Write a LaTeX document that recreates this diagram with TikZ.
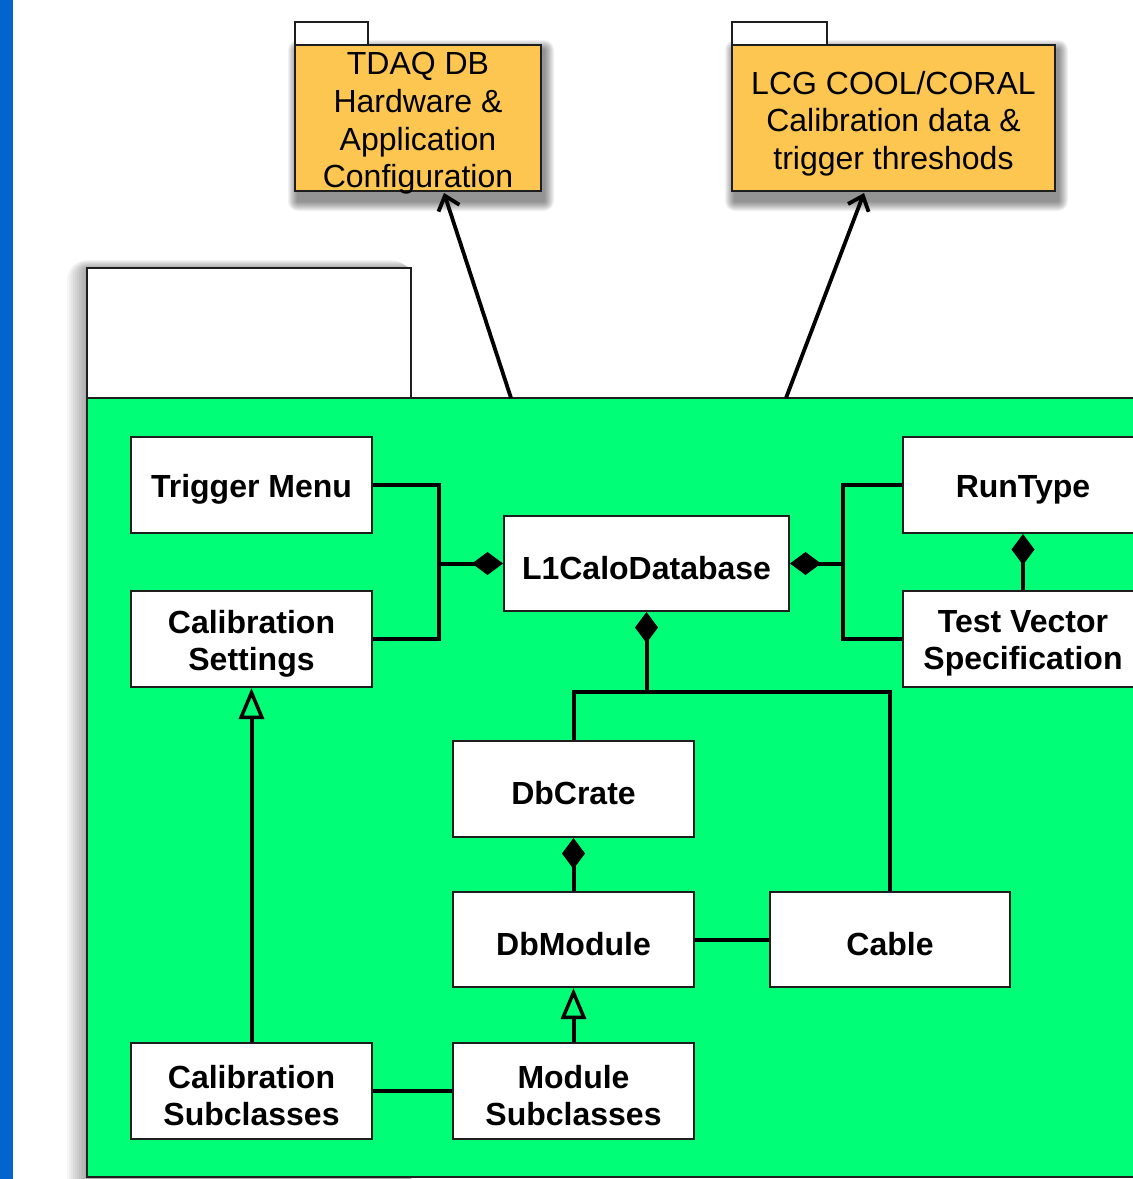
\documentclass[tikz,border=0pt]{standalone}
\usepackage{fontspec}
\setmainfont{Liberation Sans}
\usetikzlibrary{arrows.meta}
\definecolor{sideblue}{RGB}{4,100,206}
\definecolor{pkggreen}{RGB}{0,255,119}
\definecolor{folderorange}{RGB}{253,198,80}
\definecolor{edgegray}{RGB}{30,30,30}
\begin{document}
\begin{tikzpicture}[x=1pt,y=-1pt,
  cls/.style={draw=edgegray, line width=2pt, fill=white, minimum width=241pt, minimum height=96pt, inner sep=0pt},
  clstext/.style={align=center, font=\fontsize{32}{37}\selectfont\bfseries, inner sep=0pt, yshift=-4.5pt},
  folder/.style={draw=edgegray, line width=2pt, fill=folderorange, inner sep=0pt, minimum height=146pt},
  foldertext/.style={align=center, font=\fontsize{32}{37.6}\selectfont, inner sep=0pt, yshift=-5.5pt},
  foldertab/.style={draw=edgegray, line width=2pt, fill=white, inner sep=0pt, minimum height=23pt},
  link/.style={line width=4pt, draw=black},
  comp/.style={link, -{Diamond[length=31pt,width=23pt]}},
  gen/.style={link, -{Triangle[open,length=31pt,width=25pt,line width=3.5pt]}},
  dep/.style={line width=3.8pt, draw=black, -{Straight Barb[length=13pt,width=22pt,line width=3.8pt]}},
  pkgpart/.style={draw=edgegray, line width=2pt, inner sep=0pt}
]
\useasboundingbox (0,0) rectangle (1133,1179);
\clip (0,0) rectangle (1133,1179);
\fill[white] (0,0) rectangle (1133,1179);
\fill[sideblue] (0,0) rectangle (13,1179);

% shadow of the large package (left side)
\foreach \k in {2,4,...,20}
  \fill[black,opacity=0.035,rounded corners=\k pt] (87-\k,268-0.4*\k) rectangle (411,1200);

% large package
\node[pkgpart, fill=white, minimum width=324pt, minimum height=130pt] (pkgtab) at (249,333) {};
\node[pkgpart, fill=pkggreen, minimum width=1073pt, minimum height=779pt] (pkg) at (623.5,787.5) {};

% folder shadows
\foreach \k in {1,2,...,10}{
  \fill[black,opacity=0.05,rounded corners=\k pt] (295-\k+3,40-\k+10) rectangle (541+\k+3,191+\k+10);
  \fill[black,opacity=0.05,rounded corners=\k pt] (732-\k+3,40-\k+10) rectangle (1055+\k+3,191+\k+10);
}

% folders
\node[foldertab, minimum width=73pt] (tdaqtab) at (331.5,33.5) {};
\node[folder, minimum width=246pt] (tdaq) at (418,118) {};
\node[foldertext] (tdaqtext) at (tdaq.center) {TDAQ DB\\Hardware \&\\Application\\Configuration};
\node[foldertab, minimum width=95pt] (lcgtab) at (779.5,33.5) {};
\node[folder, minimum width=323pt] (lcg) at (893.5,118) {};
\node[foldertext] (lcgtext) at (lcg.center) {LCG COOL/CORAL\\Calibration data \&\\trigger threshods};

% classes
\node[cls] (tm) at (251.5,485) {};
\node[clstext] (tmtext) at (tm.center) {Trigger Menu};
\node[cls] (cs) at (251.5,639) {};
\node[clstext] (cstext) at (cs.center) {Calibration\\Settings};
\node[cls, minimum width=285pt, minimum height=95pt] (l1) at (646.5,563.5) {};
\node[clstext] (l1text) at (l1.center) {L1CaloDatabase};
\node[cls, minimum width=240pt] (rt) at (1023,485) {};
\node[clstext] (rttext) at (rt.center) {RunType};
\node[cls, minimum width=240pt] (tv) at (1023,639) {};
\node[clstext] (tvtext) at (tv.center) {Test Vector\\Specification};
\node[cls] (crate) at (573.5,789) {};
\node[clstext] (cratetext) at (crate.center) {DbCrate};
\node[cls, minimum height=95pt] (mod) at (573.5,939.5) {};
\node[clstext] (modtext) at (mod.center) {DbModule};
\node[cls, minimum width=240pt, minimum height=95pt] (cable) at (890,939.5) {};
\node[clstext] (cabletext) at (cable.center) {Cable};
\node[cls] (msub) at (573.5,1091) {};
\node[clstext] (msubtext) at (msub.center) {Module\\Subclasses};
\node[cls] (csub) at (251.5,1091) {};
\node[clstext] (csubtext) at (csub.center) {Calibration\\Subclasses};

% connectors
\coordinate (jl) at (439,563.5);
\coordinate (jr) at (843,563.5);
\coordinate (jb) at (646.5,692);
\draw[link] (tm.east) -| (jl) |- (cs.east);
\draw[comp] (jl) -- (l1.west);
\draw[link] (rt.west) -| (jr) |- (tv.west);
\draw[comp] (jr) -- (l1.east);
\draw[comp] (tv.north) -- (rt.south);
\draw[comp] (jb) -- (l1.south);
\draw[link] (crate.north) |- (jb) -| (cable.north);
\draw[comp] (mod.north) -- (crate.south);
\draw[gen] (msub.north) -- (mod.south);
\draw[gen] (csub.north) -- (cs.south);
\draw[link] (csub.east) -- (msub.west);
\draw[link] (mod.east) -- (cable.west);

% dependencies to external packages
\coordinate (p1) at (511,398);
\coordinate (p2) at (786,398);
\draw[dep] (p1) -- ([xshift=26pt,yshift=-1pt]tdaq.south);
\draw[dep] (p2) -- ([xshift=-29.5pt,yshift=-1pt]lcg.south);
\end{tikzpicture}
\end{document}
